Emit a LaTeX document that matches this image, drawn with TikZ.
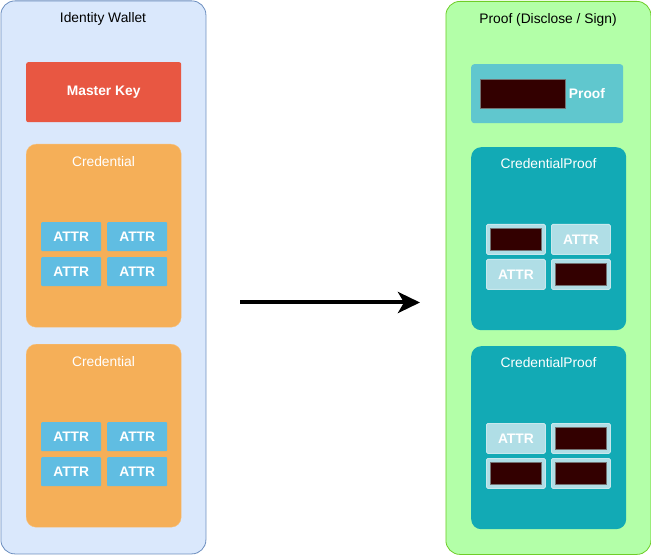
\documentclass[tikz,border=0pt]{standalone}
\usepackage{fontspec}
\setmainfont{Liberation Sans}
\usetikzlibrary{math, arrows.meta}
\definecolor{walletfill}{RGB}{218,232,252}
\definecolor{walletline}{RGB}{108,142,191}
\definecolor{prooffill}{RGB}{179,255,168}
\definecolor{proofline}{RGB}{110,205,40}
\definecolor{keyred}{RGB}{232,87,66}
\definecolor{credorange}{RGB}{245,175,88}
\definecolor{attrblue}{RGB}{96,189,226}
\definecolor{cpteal}{RGB}{18,170,181}
\definecolor{proofteal}{RGB}{96,199,206}
\definecolor{shownattr}{RGB}{176,222,230}
\definecolor{hiddenred}{RGB}{51,0,0}

\begin{document}
\begin{tikzpicture}[x=1pt,y=-1pt,
  panel/.style={draw, line width=0.8pt, rounded corners=14pt, anchor=north west,
    inner sep=0pt, minimum width=205pt, minimum height=553pt},
  title/.style={font=\fontsize{13.8}{16}\selectfont},
  whitebold/.style={text=white, font=\bfseries\fontsize{13.8}{16}\selectfont},
  card/.style={anchor=north west, inner sep=0pt, rounded corners=10pt,
    minimum width=155pt, minimum height=183pt},
  attr/.style={anchor=north west, inner sep=0pt, rounded corners=1pt,
    minimum width=60pt, minimum height=29pt, whitebold},
  cell/.style={anchor=north west, inner sep=0pt, rounded corners=1.5pt,
    fill=shownattr, draw=shownattr!70!white, line width=0.8pt,
    minimum width=59pt, minimum height=30pt},
  hidden/.style={anchor=north west, inner sep=0pt, fill=hiddenred,
    draw=black!55, line width=0.8pt}
]
\useasboundingbox (0,0) rectangle (651,556);
\tikzmath{
\dyl=200;
\dyr=199;
}

%wallet
\node[panel, fill=walletfill, draw=walletline] (wallet) at (0.5,0.5) {};
\node[title] (wallettitle) at (103,19) {Identity Wallet};
\node[anchor=north west, inner sep=0pt, fill=keyred, rounded corners=2pt,
  minimum width=155pt, minimum height=60pt, whitebold] (mkey) at (26,62) {Master Key};

%credentials
\foreach \i in {0,1}{
  \node[card, fill=credorange, draw=credorange!80!white] (cred\i) at (26,144+\i*\dyl) {};
  \node[title, text=white] (credtitle\i) at (103.5,162+\i*\dyl) {Credential};
  \foreach \c in {0,1}
    \foreach \r in {0,1}
      \node[attr, fill=attrblue] (attr\i\c\r) at (41+\c*66,222+\r*35+\i*\dyl) {ATTR};
}

%proof
\node[panel, fill=prooffill, draw=proofline] (proofset) at (445.5,1) {};
\node[title] (prooftitle) at (548,20) {Proof (Disclose / Sign)};
\node[anchor=north west, inner sep=0pt, fill=proofteal, rounded corners=3pt,
  minimum width=152pt, minimum height=59pt] (proofbox) at (471,64) {};
\node[hidden, minimum width=85pt, minimum height=29pt] (proofsig) at (480,79) {};
\node[whitebold] (prooflabel) at (587,94) {Proof};

%credential proofs
\foreach \i in {0,1}{
  \node[card, fill=cpteal] (cproof\i) at (471,147+\i*\dyr) {};
  \node[title, text=white] (cprooftitle\i) at (548.5,164+\i*\dyr) {CredentialProof};
  \foreach \c in {0,1}
    \foreach \r in {0,1}
      \node[cell] (cell\i\c\r) at (486+\c*65,224+\r*35+\i*\dyr) {};
}
\node[whitebold] at (cell010) {ATTR};
\node[whitebold] at (cell001) {ATTR};
\node[whitebold] at (cell100) {ATTR};
\foreach \n in {cell000,cell011,cell110,cell101,cell111}
  \node[hidden, anchor=center, minimum width=51pt, minimum height=22pt] at (\n) {};

%arrow
\coordinate (arrstart) at (240,302.5);
\coordinate (arrend) at (420,302.5);
\draw[line width=4pt, -{Stealth[length=22pt, width=21pt, inset=6pt]}] (arrstart) -- (arrend);
\end{tikzpicture}
\end{document}
